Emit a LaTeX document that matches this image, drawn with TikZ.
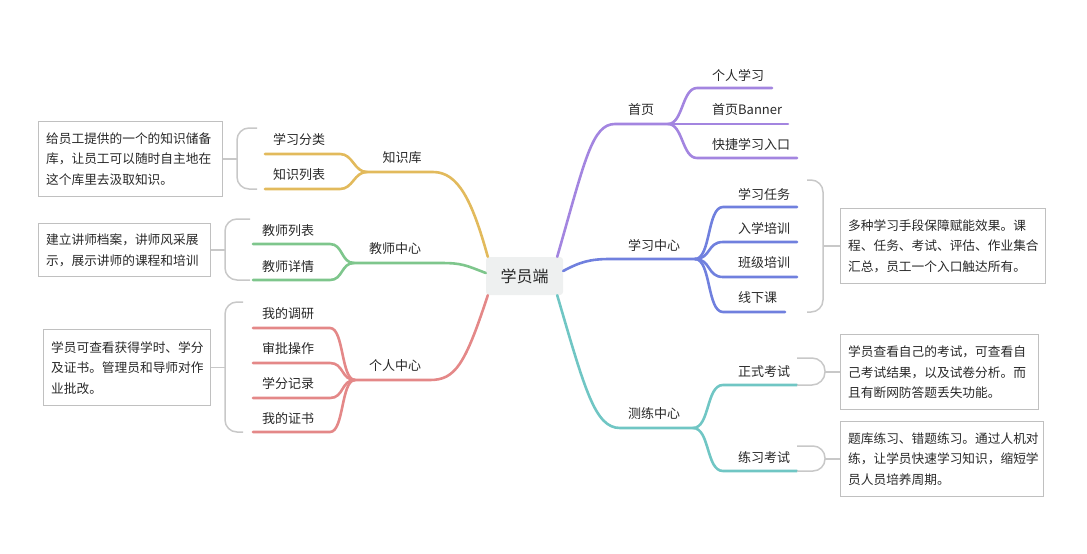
\documentclass[tikz,border=0pt]{standalone}
\usepackage{fontspec}
\setmainfont{Noto Sans CJK SC}
\definecolor{txtc}{RGB}{40,40,40}
\definecolor{boxc}{RGB}{192,192,192}
\definecolor{brc}{RGB}{200,200,200}
\definecolor{rootc}{RGB}{238,240,240}
\definecolor{purc}{RGB}{163,133,224}
\definecolor{bluc}{RGB}{112,128,222}
\definecolor{teac}{RGB}{112,198,196}
\definecolor{yelc}{RGB}{226,186,92}
\definecolor{grnc}{RGB}{126,198,140}
\definecolor{pnkc}{RGB}{228,136,136}
\begin{document}
\begin{tikzpicture}[x=1pt,y=-1pt,
  txt/.style={font=\fontsize{13}{15}\selectfont, text=txtc, inner sep=0pt},
  desc/.style={draw=boxc, line width=1.3pt, anchor=north west, align=left,
    font=\fontsize{12.7}{20.5}\selectfont, text=txtc, inner xsep=7.5pt, inner ysep=0pt},
  br/.style={draw=brc, line width=1.5pt, rounded corners=12pt},
  ln/.style={line width=2.6pt, line cap=round}]
\useasboundingbox (0,0) rectangle (1087,554);

% root
\node[fill=rootc, rounded corners=3pt, minimum width=77pt, minimum height=38pt,
  inner sep=0pt, text=txtc, font=\fontsize{16}{18}\selectfont] (root) at (524.5,276) {学员端};

% anchor points on root
\coordinate (r1) at ([xshift=-6pt]root.north east);
\coordinate (r2) at ([yshift=5pt]root.east);
\coordinate (r3) at ([xshift=-6pt]root.south east);
\coordinate (r4) at ([xshift=2pt]root.north west);
\coordinate (r5) at ([yshift=3pt]root.west);
\coordinate (r6) at ([xshift=2pt]root.south west);

% junctions
\coordinate (j1) at (668,124);
\coordinate (j2) at (695,259);
\coordinate (j3) at (693,428);
\coordinate (j4) at (367,172);
\coordinate (j5) at (354,263);
\coordinate (j6) at (355,380);

% ---------- main branches ----------
\draw[ln, purc] (r1) .. controls (585,160) and (592,124) .. (615,124) -- (j1);
\draw[ln, bluc] (r2) .. controls (580,262) and (590,259) .. (610,259) -- (j2);
\draw[ln, teac] (r3) .. controls (585,390) and (595,428) .. (620,428) -- (j3);
\draw[ln, yelc] (r4) .. controls (472,200) and (458,172) .. (433,172) -- (j4);
\draw[ln, grnc] (r5) .. controls (465,265) and (462,263) .. (440,263) -- (j5);
\draw[ln, pnkc] (r6) .. controls (465,365) and (455,380) .. (430,380) -- (j6);

% main labels
\node[txt] (n1) at (641,110) {首页};
\node[txt] (n2) at (654,245) {学习中心};
\node[txt] (n3) at (654,414) {测练中心};
\node[txt] (n4) at (402,158) {知识库};
\node[txt] (n5) at (395,249) {教师中心};
\node[txt] (n6) at (395,366) {个人中心};

% ---------- 首页 children ----------
\coordinate (e11) at (772,88);
\coordinate (e12) at (788,124);
\coordinate (e13) at (797,158);
\draw[ln, purc] (j1) .. controls (683,124) and (682,88) .. (697,88) -- (e11);
\draw[ln, purc] (j1) -- (e12);
\draw[ln, purc] (j1) .. controls (683,124) and (682,158) .. (697,158) -- (e13);
\node[txt, anchor=west] (c11) at (712,75) {个人学习};
\node[txt, anchor=west] (c12) at (712,110) {首页Banner};
\node[txt, anchor=west] (c13) at (712,145) {快捷学习入口};

% ---------- 学习中心 children ----------
\coordinate (e21) at (797,207);
\coordinate (e22) at (797,242);
\coordinate (e23) at (797,277);
\coordinate (e24) at (785,312);
\draw[ln, bluc] (j2) .. controls (711,259) and (707,207) .. (723,207) -- (e21);
\draw[ln, bluc] (j2) .. controls (711,259) and (707,242) .. (723,242) -- (e22);
\draw[ln, bluc] (j2) .. controls (711,259) and (707,277) .. (723,277) -- (e23);
\draw[ln, bluc] (j2) .. controls (711,259) and (707,312) .. (723,312) -- (e24);
\node[txt, anchor=west] (c21) at (738,194) {学习任务};
\node[txt, anchor=west] (c22) at (738,228) {入学培训};
\node[txt, anchor=west] (c23) at (738,263) {班级培训};
\node[txt, anchor=west] (c24) at (738,298) {线下课};

% ---------- 测练中心 children ----------
\coordinate (e31) at (797,385);
\coordinate (e32) at (797,471);
\draw[ln, teac] (j3) .. controls (710,428) and (706,385) .. (723,385) -- (e31);
\draw[ln, teac] (j3) .. controls (710,428) and (706,471) .. (723,471) -- (e32);
\node[txt, anchor=west] (c31) at (738,372) {正式考试};
\node[txt, anchor=west] (c32) at (738,458) {练习考试};

% ---------- 知识库 children ----------
\coordinate (e41) at (265,154);
\coordinate (e42) at (265,189);
\draw[ln, yelc] (j4) .. controls (354,172) and (353,154) .. (340,154) -- (e41);
\draw[ln, yelc] (j4) .. controls (354,172) and (353,189) .. (340,189) -- (e42);
\node[txt, anchor=west] (c41) at (273,140) {学习分类};
\node[txt, anchor=west] (c42) at (273,175) {知识列表};

% ---------- 教师中心 children ----------
\coordinate (e51) at (253,244);
\coordinate (e52) at (253,280);
\draw[ln, grnc] (j5) .. controls (341,263) and (343,244) .. (330,244) -- (e51);
\draw[ln, grnc] (j5) .. controls (341,263) and (343,280) .. (330,280) -- (e52);
\node[txt, anchor=west] (c51) at (262,231) {教师列表};
\node[txt, anchor=west] (c52) at (262,267) {教师详情};

% ---------- 个人中心 children ----------
\coordinate (e61) at (253,328);
\coordinate (e62) at (253,363);
\coordinate (e63) at (253,398);
\coordinate (e64) at (253,432);
\draw[ln, pnkc] (j6) .. controls (341,380) and (344,328) .. (330,328) -- (e61);
\draw[ln, pnkc] (j6) .. controls (341,380) and (344,363) .. (330,363) -- (e62);
\draw[ln, pnkc] (j6) .. controls (341,380) and (344,398) .. (330,398) -- (e63);
\draw[ln, pnkc] (j6) .. controls (341,380) and (344,432) .. (330,432) -- (e64);
\node[txt, anchor=west] (c61) at (262,314) {我的调研};
\node[txt, anchor=west] (c62) at (262,349) {审批操作};
\node[txt, anchor=west] (c63) at (262,384) {学分记录};
\node[txt, anchor=west] (c64) at (262,419) {我的证书};

% ---------- description boxes ----------
\node[desc, text width=169pt, minimum height=75pt] (box1) at (38,121)
  {给员工提供的一个的知识储备\\库，让员工可以随时自主地在\\这个库里去汲取知识。};
\node[desc, text width=157pt, minimum height=53pt] (box2) at (38,223)
  {建立讲师档案，讲师风采展\\示，展示讲师的课程和培训};
\node[desc, text width=152pt, minimum height=76pt] (box3) at (43,329)
  {学员可查看获得学时、学分\\及证书。管理员和导师对作\\业批改。};
\node[desc, text width=190pt, minimum height=75pt] (box4) at (840,208)
  {多种学习手段保障赋能效果。课\\程、任务、考试、评估、作业集合\\汇总，员工一个入口触达所有。};
\node[desc, text width=183pt, minimum height=75pt] (box5) at (840,334)
  {学员查看自己的考试，可查看自\\己考试结果，以及试卷分析。而\\且有断网防答题丢失功能。};
\node[desc, text width=188pt, minimum height=75pt] (box6) at (840,421)
  {题库练习、错题练习。通过人机对\\练，让学员快速学习知识，缩短学\\员人员培养周期。};

% ---------- brackets ----------
\draw[br] (257,128) -- (237,128) -- (237,189) -- (257,189);
\draw[br] (box1.east) -- ++(15,0);
\draw[br] (250,219) -- (225,219) -- (225,280) -- (250,280);
\draw[br] (box2.east) -- ++(15,0);
\draw[br] (243,302) -- (225,302) -- (225,432) -- (243,432);
\draw[br] (box3.east) -- ++(15,0);
\draw[br] (807,180) -- (823,180) -- (823,312) -- (807,312);
\draw[br] (box4.west) -- ++(-17,0);
\draw[br, rounded corners=13pt] (797,358) -- (825,358) -- (825,385) -- (797,385);
\draw[br] (box5.west) -- ++(-15,0);
\draw[br, rounded corners=12pt] (797,446) -- (825,446) -- (825,471) -- (797,471);
\draw[br] (box6.west) -- ++(-15,0);
\end{tikzpicture}
\end{document}
